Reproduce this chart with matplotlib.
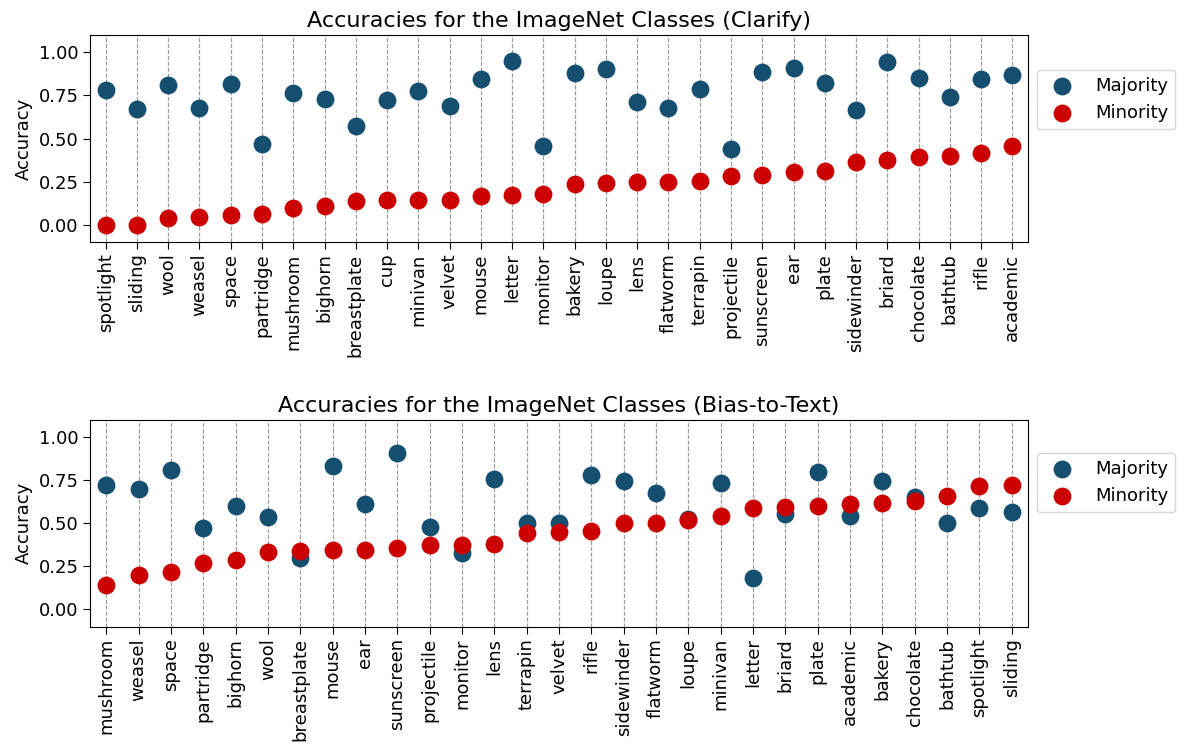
import matplotlib
matplotlib.use("Agg")
import matplotlib.pyplot as plt
import numpy as np

# ---- data: Clarify ----
clarify_classes = ["spotlight", "sliding", "wool", "weasel", "space", "partridge", "mushroom",
                   "bighorn", "breastplate", "cup", "minivan", "velvet", "mouse", "letter",
                   "monitor", "bakery", "loupe", "lens", "flatworm", "terrapin", "projectile",
                   "sunscreen", "ear", "plate", "sidewinder", "briard", "chocolate", "bathtub",
                   "rifle", "academic"]
clarify_majority = [0.779, 0.672, 0.810, 0.678, 0.814, 0.469, 0.762, 0.729, 0.572, 0.725,
                    0.777, 0.690, 0.845, 0.952, 0.455, 0.880, 0.905, 0.711, 0.674, 0.789,
                    0.442, 0.886, 0.909, 0.824, 0.667, 0.946, 0.851, 0.742, 0.847, 0.868]
clarify_minority = [0.0, 0.0, 0.039, 0.043, 0.056, 0.062, 0.095, 0.107, 0.136, 0.141,
                    0.141, 0.141, 0.167, 0.172, 0.178, 0.236, 0.242, 0.248, 0.248, 0.256,
                    0.285, 0.291, 0.306, 0.312, 0.362, 0.376, 0.391, 0.399, 0.417, 0.457]

# ---- data: Bias-to-Text ----
b2t_classes = ["mushroom", "weasel", "space", "partridge", "bighorn", "wool", "breastplate",
               "mouse", "ear", "sunscreen", "projectile", "monitor", "lens", "terrapin",
               "velvet", "rifle", "sidewinder", "flatworm", "loupe", "minivan", "letter",
               "briard", "plate", "academic", "bakery", "chocolate", "bathtub", "spotlight",
               "sliding"]
b2t_majority = [0.725, 0.698, 0.812, 0.470, 0.600, 0.538, 0.296, 0.834, 0.611, 0.907,
                0.478, 0.329, 0.758, 0.499, 0.501, 0.780, 0.745, 0.675, 0.524, 0.731,
                0.180, 0.555, 0.799, 0.542, 0.745, 0.654, 0.499, 0.586, 0.563]
b2t_minority = [0.141, 0.197, 0.215, 0.271, 0.284, 0.333, 0.338, 0.346, 0.344, 0.358,
                0.371, 0.373, 0.379, 0.441, 0.447, 0.455, 0.499, 0.499, 0.518, 0.544,
                0.590, 0.592, 0.598, 0.613, 0.619, 0.629, 0.658, 0.716, 0.723]

MAJ_COLOR = "#154f70"
MIN_COLOR = "#cc0000"

W, H = 1181, 749
fig = plt.figure(figsize=(W / 100, H / 100), dpi=100)


def panel(top_px, bottom_px, classes, maj, mino, title, leg_y):
    left_px, right_px = 90, 1028
    rect = [left_px / W, 1 - bottom_px / H, (right_px - left_px) / W, (bottom_px - top_px) / H]
    ax = fig.add_axes(rect)
    x = np.arange(len(classes))
    ax.grid(axis="x", linestyle="--", color="gray", linewidth=0.8, alpha=0.8, zorder=0)
    ax.scatter(x, maj, s=140, color=MAJ_COLOR, label="Majority", zorder=3)
    ax.scatter(x, mino, s=140, color=MIN_COLOR, label="Minority", zorder=4)
    ax.set_xticks(x)
    ax.set_xticklabels(classes, rotation=90, fontsize=13)
    ax.set_yticks([0.0, 0.25, 0.5, 0.75, 1.0])
    ax.set_yticklabels(["0.00", "0.25", "0.50", "0.75", "1.00"], fontsize=13)
    ax.tick_params(length=4.8)
    ax.set_xlim(-0.5, len(classes) - 0.5)
    ax.set_ylim(-0.1, 1.1)
    ax.set_ylabel("Accuracy", fontsize=13)
    ax.set_title(title, fontsize=16)
    ax.legend(loc="upper left", bbox_to_anchor=(1.0, leg_y), fontsize=13)
    return ax


panel(35, 242, clarify_classes, clarify_majority, clarify_minority,
      "Accuracies for the ImageNet Classes (Clarify)", 0.875)
panel(420, 626.5, b2t_classes, b2t_majority, b2t_minority,
      "Accuracies for the ImageNet Classes (Bias-to-Text)", 0.884)

fig.savefig("out.png", dpi=100)
